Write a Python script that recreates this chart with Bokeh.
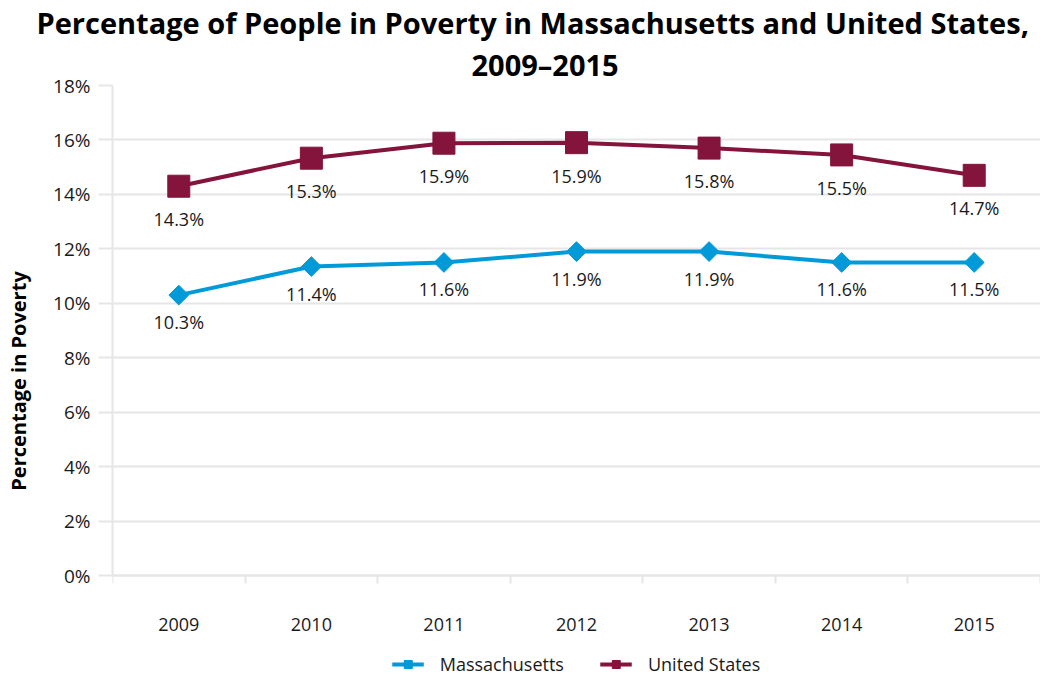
import math
from bokeh.plotting import figure
from bokeh.models import (ColumnDataSource, FixedTicker, Range1d, Legend, LegendItem,
                          PrintfTickFormatter, Title)
from bokeh.core.properties import value
from bokeh.embed import file_html
from bokeh.resources import INLINE

years = ["2009", "2010", "2011", "2012", "2013", "2014", "2015"]
ma_values = [10.3, 11.35, 11.5, 11.9, 11.9, 11.5, 11.5]
ma_labels = ["10.3%", "11.4%", "11.6%", "11.9%", "11.9%", "11.6%", "11.5%"]
us_values = [14.3, 15.33, 15.88, 15.9, 15.7, 15.45, 14.7]
us_labels = ["14.3%", "15.3%", "15.9%", "15.9%", "15.8%", "15.5%", "14.7%"]
y_ticks = [0, 2, 4, 6, 8, 10, 12, 14, 16, 18]
title_line1 = "Percentage of People in Poverty in Massachusetts and United States,"
title_line2 = "2009\u20132015"

FONT = "Open Sans"
MA_COLOR = "#009ad9"
US_COLOR = "#84143c"
GRID = "#e6e6e8"
TXT = "#1a1a1a"

# layout: the value area (0-18%) is 490px tall; the frame extends below it
# to hold the category labels and the legend
Y_MAX = 18
VALUE_PX = 490
FRAME_PX = 591
y_lo = Y_MAX - FRAME_PX * Y_MAX / VALUE_PX

idx = list(range(len(years)))
ma_src = ColumnDataSource(dict(x=idx, y=ma_values, label=ma_labels))
us_src = ColumnDataSource(dict(x=idx, y=us_values, label=us_labels))

p = figure(frame_width=928, frame_height=FRAME_PX, output_backend="svg", toolbar_location=None,
           x_range=Range1d(-0.5, len(years) - 0.5), y_range=Range1d(y_lo, Y_MAX),
           min_border_left=112, min_border_right=0, min_border_top=0,
           min_border_bottom=0)
p.outline_line_color = None
p.background_fill_color = "white"
p.border_fill_color = "white"

p.title.text = title_line1
p.title.align = "left"
p.title.offset = -76
p.title.text_font = FONT
p.title.text_font_size = "29px"
p.title.text_font_style = "bold"
p.title.text_color = "black"
p.title.standoff = 0
p.add_layout(Title(text=title_line2, align="left", offset=359, text_font=FONT,
                   text_font_size="29px", text_font_style="bold", text_color="black",
                   standoff=3), "above")

# axes
xa = p.xaxis[0]
xa.fixed_location = 0
xa.ticker = FixedTicker(ticks=idx, minor_ticks=[i - 0.5 for i in range(len(years) + 1)])
xa.major_label_overrides = {i: y for i, y in enumerate(years)}
xa.major_tick_out = 0
xa.major_tick_in = 0
xa.minor_tick_out = 8
xa.minor_tick_in = 0
xa.minor_tick_line_color = GRID
xa.minor_tick_line_width = 2
xa.axis_line_color = GRID
xa.axis_line_width = 2
xa.major_label_standoff = 34
xa.major_label_text_font = FONT
xa.major_label_text_font_size = "18px"
xa.major_label_text_color = TXT

ya = p.yaxis[0]
ya.bounds = (0, Y_MAX)
ya.ticker = FixedTicker(ticks=y_ticks, minor_ticks=[])
ya.formatter = PrintfTickFormatter(format="%d%%")
ya.major_tick_out = 14
ya.major_tick_in = 0
ya.major_tick_line_color = GRID
ya.major_tick_line_width = 2
ya.axis_line_color = GRID
ya.axis_line_width = 2
ya.major_label_standoff = 8
ya.major_label_text_font = FONT
ya.major_label_text_font_size = "19px"
ya.major_label_text_color = TXT
ya.axis_label = "Percentage in Poverty"
ya.axis_label_text_font = FONT
ya.axis_label_text_font_size = "20px"
ya.axis_label_text_font_style = "bold"
ya.axis_label_text_color = "black"
ya.axis_label_standoff = 18

p.xgrid.grid_line_color = None
p.ygrid.grid_line_color = GRID
p.ygrid.grid_line_width = 2

# series
ma_line = p.line("x", "y", source=ma_src, line_color=MA_COLOR, line_width=4)
ma_mark = p.scatter("x", "y", source=ma_src, marker="square", angle=math.pi / 4,
                    size=14, fill_color=MA_COLOR, line_color=MA_COLOR)
us_line = p.line("x", "y", source=us_src, line_color=US_COLOR, line_width=4)
us_mark = p.scatter("x", "y", source=us_src, marker="square", size=22,
                    fill_color=US_COLOR, line_color=US_COLOR)

p.text("x", "y", text="label", source=ma_src, text_align="center", text_baseline="middle",
       y_offset=27, text_font=value(FONT), text_font_size="18px", text_color=TXT)
p.text("x", "y", text="label", source=us_src, text_align="center", text_baseline="middle",
       y_offset=33, text_font=value(FONT), text_font_size="18px", text_color=TXT)

legend = Legend(items=[LegendItem(label="Massachusetts", renderers=[ma_line, ma_mark]),
                       LegendItem(label="United States", renderers=[us_line, us_mark])],
                orientation="horizontal", location="bottom",
                border_line_color=None, background_fill_alpha=0,
                label_text_font=FONT, label_text_font_size="18px", label_text_color=TXT,
                glyph_width=32, glyph_height=20, spacing=36, label_standoff=16,
                padding=0, margin=0)
p.add_layout(legend, "center")

open("out.html", "w").write(file_html(p, INLINE))
